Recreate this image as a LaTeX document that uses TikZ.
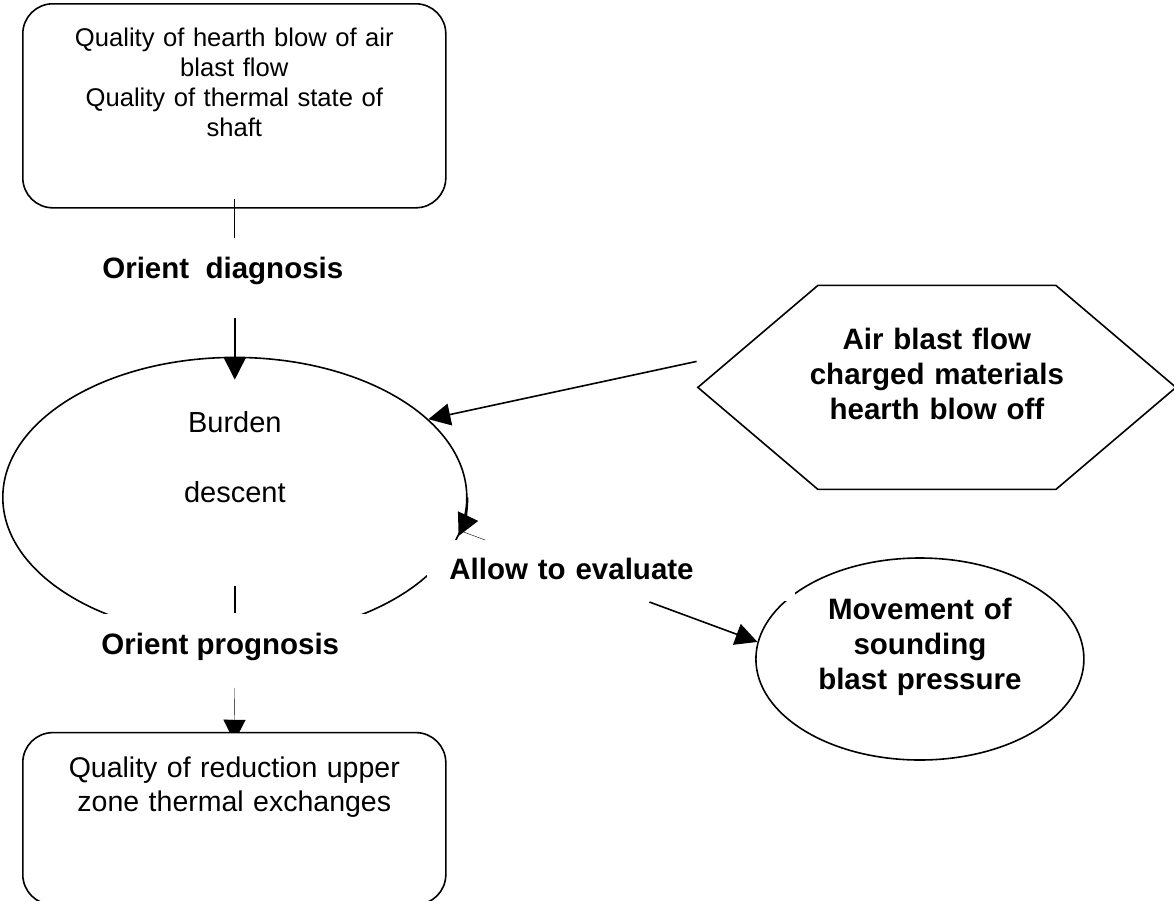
\documentclass[tikz,border=0pt]{standalone}
\usepackage{fontspec}
\setmainfont{Liberation Sans}
\usetikzlibrary{positioning, arrows.meta, shapes.geometric, shapes.symbols, backgrounds}

\begin{document}
\begin{tikzpicture}[
    x=1pt, y=1pt,
    line width=1.6pt,
    box/.style={draw, rectangle, rounded corners=30pt, fill=white, align=center, text width=403pt, inner xsep=10pt},
    relation/.style={font=\fontsize{29.5}{35}\selectfont\bfseries, inner sep=0pt},
    oval/.style={draw, ellipse, inner sep=0pt, align=center},
    arrow/.style={-{Triangle[length=22pt, width=22pt]}}
]
\useasboundingbox (0,0) rectangle (1174,-900);

\node[box, anchor=north west, font=\fontsize{25.6}{30}\selectfont, inner ysep=18pt, text height=25pt, text depth=143pt] (quality) at (22,-3) {Quality of hearth blow of air\\ blast flow\\ Quality of thermal state of\\ shaft};
\node[relation, text height=40pt, text depth=39pt, below=29pt of quality, xshift=-11.5pt] (diagnosis) {Orient\ \ diagnosis};
\node[oval, font=\fontsize{29}{35}\selectfont, text width=150pt, text height=20pt, text depth=150pt, minimum width=464pt, minimum height=280pt, below=148pt of quality, xshift=0.5pt] (burden) {Burden\\[35pt]descent};
\node[relation, fill=white, inner xsep=30pt, text height=40pt, text depth=33pt, below=-25pt of burden, xshift=-14.5pt] (prognosis) {Orient prognosis};
\node[box, font=\fontsize{28.5}{33.5}\selectfont, inner ysep=19pt, text height=26pt, text depth=108pt, below=44pt of prognosis, xshift=14pt] (outcome) {Quality of reduction upper\\ zone thermal exchanges};

\node[draw, signal, signal to=west and east, signal pointer angle=80.7, relation, align=center, text width=264pt, inner xsep=-13pt, inner ysep=0pt, text height=64pt, text depth=140pt, right=229pt of burden.east, yshift=110pt] (blast) {Air blast flow\\ charged materials\\ hearth blow off};
\node[oval, relation, text width=220pt, text height=20pt, text depth=100pt, minimum width=328pt, minimum height=202pt, below=67pt of blast, xshift=-17pt] (pressure) {Movement of\\ sounding\\ blast pressure};
\node[relation, fill=white, align=left, text width=324pt, inner xsep=22pt, text height=39pt, text depth=22pt, below right=42pt and -41pt of burden.east] (allow) {Allow to evaluate};

\draw ([yshift=10pt]quality.south) -- (quality.south |- diagnosis.north);
\draw[arrow] (burden.north |- diagnosis.south) -- ([yshift=-23pt]burden.north);
\draw ([yshift=52pt]burden.south) -- (burden.south |- prognosis.north);
\begin{scope}[on background layer]
\draw[arrow] (burden.south |- prognosis.south) -- ([yshift=-10pt]outcome.north);
\end{scope}
\draw[arrow] ([yshift=26pt]blast.west) -- (burden.22.5);
\draw[arrow] (burden.east) arc[start angle=0, end angle=-16, x radius=232pt, y radius=140pt] coordinate (turn);
\begin{scope}[on background layer]
\draw ([xshift=-44pt]allow.center) -- ([shift={(5pt,4pt)}]turn);
\end{scope}
\draw[arrow] ([xshift=38pt]allow.south) -- (pressure.174);

\end{tikzpicture}
\end{document}
